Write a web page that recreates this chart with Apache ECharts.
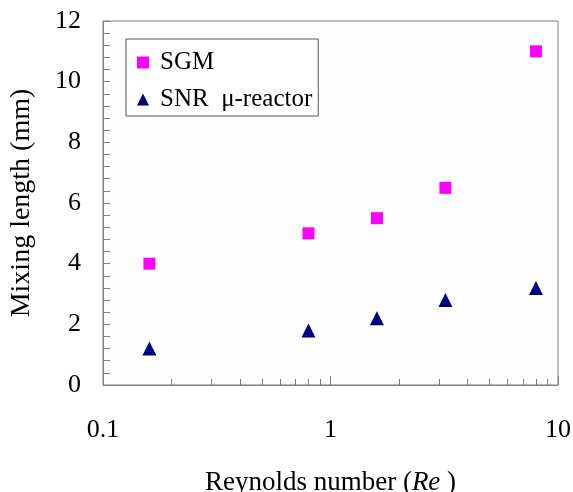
<!DOCTYPE html>
<html><head><meta charset="utf-8">
<script src="https://cdn.jsdelivr.net/npm/echarts@6/dist/echarts.min.js"></script>
<style>html,body{margin:0;padding:0;background:#fff}#c{width:573px;height:492px}</style>
</head><body><div id="c"></div>
<script>
const reynolds = [0.16, 0.8, 1.6, 3.2, 8];
const sgm = [4.0, 5.0, 5.5, 6.5, 11.0];
const snr = [1.2, 1.8, 2.2, 2.8, 3.2];
const seriesNames = ['SGM', 'SNR  \u03bc-reactor'];

const font = '"Liberation Serif", "Times New Roman", serif';
const axisColor = '#808080';
const chart = echarts.init(document.getElementById('c'));
chart.setOption({
  animation: false,
  backgroundColor: '#fff',
  grid: { left: 103, right: 15, top: 21, bottom: 107, containLabel: false, outerBoundsMode: 'none',
    show: true, borderColor: axisColor, borderWidth: 1, backgroundColor: '#fdfdfd' },
  legend: {
    orient: 'vertical', left: 126, top: 39,
    padding: [11, 6, 4, 11], itemGap: 12,
    borderColor: '#555', borderWidth: 1, backgroundColor: '#fff',
    itemWidth: 12, itemHeight: 12,
    textStyle: { fontFamily: font, fontSize: 25, color: '#000', padding: [0, 0, 0, 6] },
    data: [{ name: seriesNames[0], icon: 'rect' }, { name: seriesNames[1], icon: 'triangle' }]
  },
  xAxis: {
    type: 'log', logBase: 10, min: 0.1, max: 10,
    name: '{n|Reynolds number (}{i|Re}{n| )}',
    nameLocation: 'middle', nameGap: 84,
    nameTextStyle: { rich: { n: { fontFamily: font, fontSize: 27, color: '#000' }, i: { fontFamily: font, fontSize: 27, fontStyle: 'italic', color: '#000' } } },
    axisLine: { lineStyle: { color: axisColor } },
    axisTick: { inside: true, length: 9, lineStyle: { color: axisColor } },
    minorTick: { show: true, splitNumber: 9, length: 6, lineStyle: { color: axisColor } },
    splitLine: { show: false },
    axisLabel: { fontFamily: font, fontSize: 26, color: '#000', margin: 32 }
  },
  yAxis: {
    type: 'value', min: 0, max: 12, interval: 2,
    name: 'Mixing length (mm)', nameLocation: 'middle', nameGap: 67,
    nameTextStyle: { fontFamily: font, fontSize: 28, color: '#000' },
    axisLine: { show: true, lineStyle: { color: axisColor } },
    axisTick: { show: true, inside: true, length: 7, lineStyle: { color: axisColor } },
    minorTick: { show: true, splitNumber: 5, length: 7, lineStyle: { color: axisColor } },
    splitLine: { show: false },
    axisLabel: { fontFamily: font, fontSize: 26, color: '#000', margin: 22 }
  },
  series: [
    { name: seriesNames[0], type: 'scatter', symbol: 'rect', symbolSize: 12,
      itemStyle: { color: '#ff00ff', opacity: 1 }, data: reynolds.map((x, i) => [x, sgm[i]]) },
    { name: seriesNames[1], type: 'scatter', symbol: 'triangle', symbolSize: 14,
      itemStyle: { color: '#000080', opacity: 1 }, data: reynolds.map((x, i) => [x, snr[i]]) }
  ]
});
</script></body></html>
